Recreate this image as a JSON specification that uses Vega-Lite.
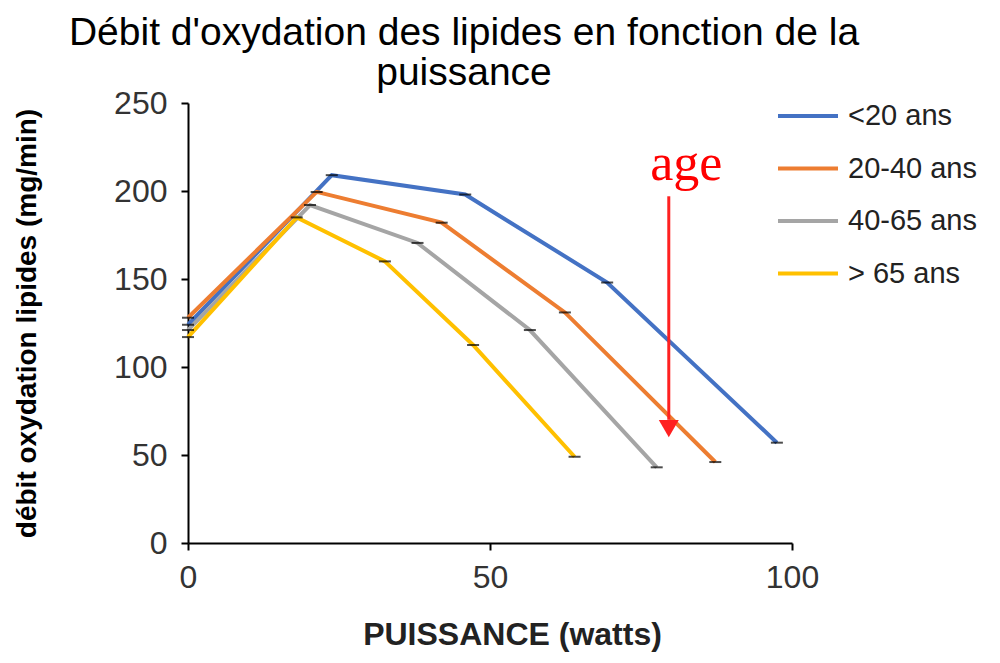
{
  "$schema": "https://vega.github.io/schema/vega-lite/v6.json",
  "width": 604,
  "height": 440,
  "autosize": {"type": "none"},
  "padding": {"left": 188, "top": 103, "right": 208, "bottom": 120},
  "background": "white",
  "config": {"view": {"stroke": null}, "font": "Liberation Sans"},
  "title": {
    "text": ["Débit d'oxydation des lipides en fonction de la", "puissance"],
    "fontSize": 39,
    "fontWeight": "normal",
    "font": "Liberation Sans",
    "color": "#000000",
    "anchor": "middle",
    "frame": "group",
    "dx": -26,
    "offset": -9,
    "lineHeight": 40
  },
  "datasets": {
    "series": [
      {"groupe": "<20 ans", "puissance": 0, "debit": 124},
      {"groupe": "<20 ans", "puissance": 23.8, "debit": 209},
      {"groupe": "<20 ans", "puissance": 45.9, "debit": 198},
      {"groupe": "<20 ans", "puissance": 69.4, "debit": 148},
      {"groupe": "<20 ans", "puissance": 97.5, "debit": 57},
      {"groupe": "20-40 ans", "puissance": 0, "debit": 128},
      {"groupe": "20-40 ans", "puissance": 21.3, "debit": 199.5},
      {"groupe": "20-40 ans", "puissance": 42, "debit": 182},
      {"groupe": "20-40 ans", "puissance": 62.4, "debit": 131},
      {"groupe": "20-40 ans", "puissance": 87.3, "debit": 46},
      {"groupe": "40-65 ans", "puissance": 0, "debit": 121},
      {"groupe": "40-65 ans", "puissance": 20.2, "debit": 192},
      {"groupe": "40-65 ans", "puissance": 38, "debit": 170.5},
      {"groupe": "40-65 ans", "puissance": 56.6, "debit": 121},
      {"groupe": "40-65 ans", "puissance": 77.6, "debit": 43},
      {"groupe": "> 65 ans", "puissance": 0, "debit": 117},
      {"groupe": "> 65 ans", "puissance": 18, "debit": 185},
      {"groupe": "> 65 ans", "puissance": 32.6, "debit": 160},
      {"groupe": "> 65 ans", "puissance": 47.2, "debit": 112.5},
      {"groupe": "> 65 ans", "puissance": 64, "debit": 49}
    ],
    "arrow": [{"puissance": 79.6, "debut": 197, "fin": 70, "pointe": 65, "label": "age", "ylabel": 206, "xlabel": 82.5}]
  },
  "layer": [
    {
      "data": {"name": "series"},
      "mark": {"type": "line", "strokeWidth": 4},
      "encoding": {
        "x": {
          "field": "puissance", "type": "quantitative",
          "scale": {"domain": [0, 100], "nice": false},
          "axis": {
            "title": "PUISSANCE (watts)", "values": [0, 50, 100], "grid": false, "labelFlush": false,
            "domainColor": "#000000", "domainWidth": 2, "tickColor": "#000000", "tickWidth": 2, "tickSize": 7,
            "labelFontSize": 32, "labelColor": "#333333", "labelPadding": 12, "labelFont": "Liberation Sans",
            "titleFontSize": 32, "titleFontWeight": "bold", "titleColor": "#222222", "titlePadding": 26, "titleFont": "Liberation Sans",
            "titleX": 324
          }
        },
        "y": {
          "field": "debit", "type": "quantitative",
          "scale": {"domain": [0, 250], "nice": false},
          "axis": {
            "title": "débit oxydation lipides (mg/min)", "values": [0, 50, 100, 150, 200, 250], "grid": false,
            "domainColor": "#000000", "domainWidth": 2, "tickColor": "#000000", "tickWidth": 2, "tickSize": 7,
            "labelFontSize": 32, "labelColor": "#333333", "labelPadding": 14, "labelFont": "Liberation Sans",
            "titleFontSize": 28, "titleFontWeight": "bold", "titleColor": "#000000", "titlePadding": 72, "titleFont": "Liberation Sans"
          }
        },
        "color": {
          "field": "groupe", "type": "nominal",
          "scale": {"domain": ["<20 ans", "20-40 ans", "40-65 ans", "> 65 ans"], "range": ["#4472C4", "#ED7D31", "#A5A5A5", "#FFC000"]},
          "legend": {
            "orient": "none", "legendX": 588, "legendY": -19, "title": null, "padding": 0,
            "symbolType": "stroke", "symbolSize": 3600, "symbolStrokeWidth": 4,
            "labelFontSize": 29, "labelFont": "Liberation Sans", "labelColor": "#222222", "labelOffset": 8, "rowPadding": 5.5
          }
        },
        "detail": {"field": "groupe"}
      }
    },
    {
      "data": {"name": "series"},
      "mark": {"type": "tick", "orient": "horizontal", "color": "#000000", "size": 12, "thickness": 2},
      "encoding": {
        "x": {"field": "puissance", "type": "quantitative"},
        "y": {"field": "debit", "type": "quantitative"}
      }
    },
    {
      "data": {"name": "arrow"},
      "mark": {"type": "rule", "color": "#FF2020", "strokeWidth": 3},
      "encoding": {
        "x": {"field": "puissance", "type": "quantitative"},
        "y": {"field": "debut", "type": "quantitative"},
        "y2": {"field": "fin"}
      }
    },
    {
      "data": {"name": "arrow"},
      "mark": {"type": "point", "shape": "triangle-down", "filled": true, "color": "#FF2020", "size": 400, "opacity": 1},
      "encoding": {
        "x": {"field": "puissance", "type": "quantitative"},
        "y": {"field": "pointe", "type": "quantitative"}
      }
    },
    {
      "data": {"name": "arrow"},
      "mark": {"type": "text", "color": "#FF0000", "font": "Liberation Serif", "fontSize": 52, "align": "center", "baseline": "alphabetic"},
      "encoding": {
        "x": {"field": "xlabel", "type": "quantitative"},
        "y": {"field": "ylabel", "type": "quantitative"},
        "text": {"field": "label"}
      }
    }
  ]
}
